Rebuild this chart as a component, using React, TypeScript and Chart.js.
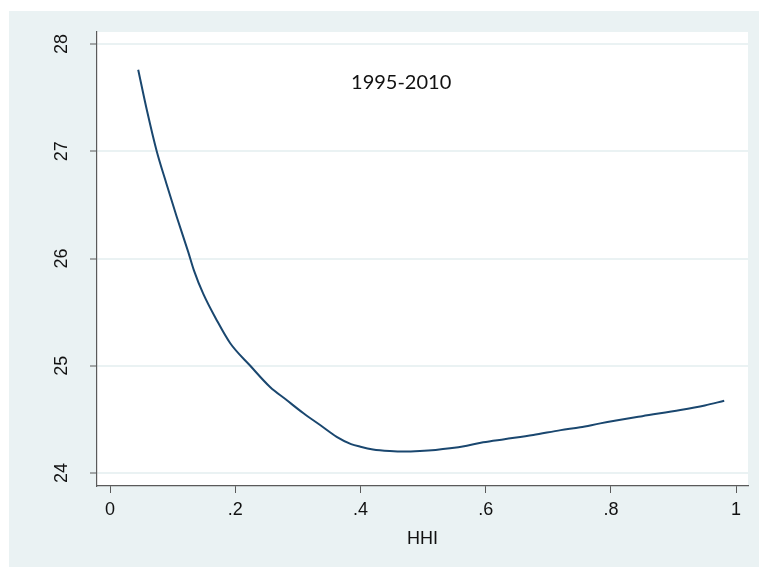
import React, { useEffect, useRef } from "react";
import { Chart, registerables } from "chart.js";

Chart.register(...registerables);

// HHI values (x) and fitted outcome (y)
const hhi = [
  0.045, 0.059, 0.0746, 0.09, 0.1065, 0.125, 0.134, 0.149, 0.17, 0.192, 0.224,
  0.256, 0.28, 0.309, 0.335, 0.362, 0.385, 0.4, 0.42, 0.447, 0.47, 0.495,
  0.52, 0.543, 0.57, 0.596, 0.63, 0.676, 0.72, 0.751, 0.783, 0.85, 0.911,
  0.95, 0.981,
];
const fitted = [
  27.76, 27.38, 27.0, 26.7, 26.39, 26.06, 25.89, 25.67, 25.43, 25.21, 25.0,
  24.8, 24.69, 24.557, 24.45, 24.338, 24.27, 24.245, 24.22, 24.205, 24.2,
  24.205, 24.215, 24.23, 24.255, 24.286, 24.315, 24.354, 24.4, 24.426, 24.463,
  24.53, 24.587, 24.63, 24.674,
];

const xTickValues = [0, 0.2, 0.4, 0.6, 0.8, 1];
const xTickLabels = ["0", ".2", ".4", ".6", ".8", "1"];
const yTickValues = [24, 25, 26, 27, 28];
const yTickLabels = ["24", "25", "26", "27", "28"];

const annotationText = "1995-2010";
const annotationX = 0.465;
const annotationY = 27.64;
const xTitle = "HHI";

const BG = "#EAF2F3";
const LINE = "#1A476F";
const AXIS = "#5a5a5a";

export default function App() {
  const ref = useRef<HTMLCanvasElement | null>(null);

  useEffect(() => {
    if (!ref.current) return;
    const bgPlugin = {
      id: "stataBg",
      beforeDraw(chart: any) {
        const { ctx, chartArea } = chart;
        ctx.save();
        ctx.fillStyle = BG;
        ctx.fillRect(9, 11, 750, 556);
        ctx.fillStyle = "#FFFFFF";
        ctx.fillRect(
          chartArea.left,
          chartArea.top,
          chartArea.right - chartArea.left,
          chartArea.bottom - chartArea.top
        );
        ctx.restore();
      },
      afterDatasetsDraw(chart: any) {
        const { ctx, scales } = chart;
        ctx.save();
        ctx.fillStyle = "#111";
        ctx.font = "20px Lato";
        ctx.textAlign = "center";
        ctx.textBaseline = "middle";
        ctx.fillText(
          annotationText,
          scales.x.getPixelForValue(annotationX),
          scales.y.getPixelForValue(annotationY)
        );
        ctx.restore();
      },
    };

    const chart = new Chart(ref.current, {
      type: "scatter",
      data: {
        datasets: [
          {
            data: hhi.map((x, i) => ({ x, y: fitted[i] })),
            showLine: true,
            borderColor: LINE,
            borderWidth: 2,
            pointRadius: 0,
            tension: 0.4,
            cubicInterpolationMode: "monotone",
          },
        ],
      },
      options: {
        responsive: false,
        animation: false,
        devicePixelRatio: 1,
        layout: { padding: { left: 9, top: 32, right: 11, bottom: 0 } },
        plugins: {
          legend: { display: false },
          tooltip: { enabled: false },
        },
        scales: {
          x: {
            type: "linear",
            min: -0.0208,
            max: 1.019,
            afterBuildTicks(scale: any) {
              scale.ticks = xTickValues.map((v) => ({ value: v }));
            },
            afterFit(scale: any) {
              scale.height = 81;
            },
            ticks: {
              callback: (_v: any, i: number) => xTickLabels[i],
              color: "#111",
              font: { family: "Liberation Sans", size: 18 },
              padding: 6,
              maxRotation: 0,
            },
            grid: {
              drawOnChartArea: false,
              drawTicks: true,
              tickLength: 7,
              tickColor: AXIS,
              tickWidth: 1,
            },
            border: { color: AXIS, width: 1.2 },
            title: {
              display: true,
              text: xTitle,
              color: "#111",
              font: { family: "Liberation Sans", size: 18 },
              padding: { top: 2, bottom: 17 },
            },
          },
          y: {
            type: "linear",
            min: 23.879,
            max: 28.112,
            afterBuildTicks(scale: any) {
              scale.ticks = yTickValues.map((v) => ({ value: v }));
            },
            afterFit(scale: any) {
              scale.width = 88;
            },
            ticks: {
              callback: (_v: any, i: number) => yTickLabels[i],
              color: "#111",
              font: { family: "Liberation Sans", size: 18 },
              minRotation: 90,
              maxRotation: 90,
              crossAlign: "center",
              padding: 18,
            },
            grid: {
              color: BG,
              lineWidth: 2,
              drawTicks: true,
              tickLength: 7,
              tickColor: AXIS,
              tickWidth: 1,
            },
            border: { color: AXIS, width: 1.2 },
          },
        },
      },
      plugins: [bgPlugin],
    } as any);
    return () => chart.destroy();
  }, []);

  return (
    <div style={{ position: "absolute", left: 0, top: 0, width: 759, height: 567 }}>
      <canvas ref={ref} width={759} height={567} />
    </div>
  );
}
